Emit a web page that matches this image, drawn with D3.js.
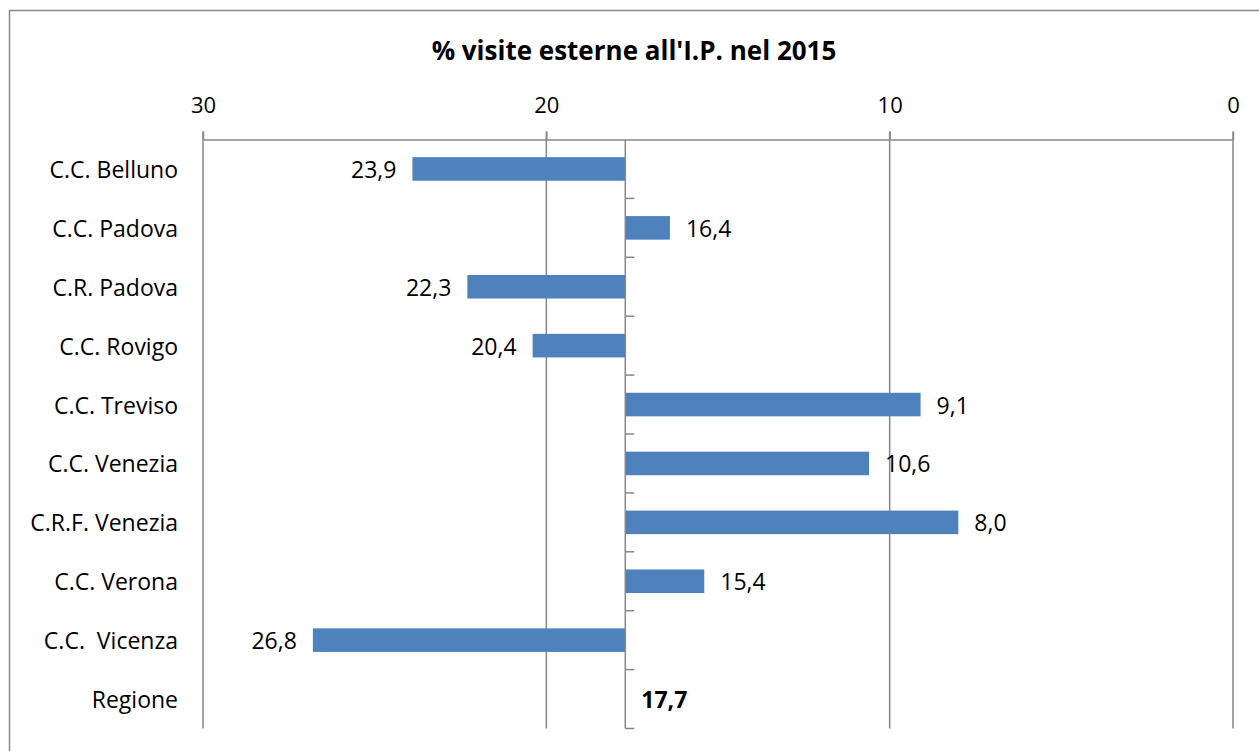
<!DOCTYPE html>
<html>
<head>
<meta charset="utf-8">
<script src="https://cdn.jsdelivr.net/npm/d3@7"></script>
<style>
  html, body { margin: 0; padding: 0; background: #fff; }
  svg { display: block; }
  text { font-family: "Open Sans", sans-serif; fill: #000; }
</style>
</head>
<body>
<script>
const title = "% visite esterne all'I.P. nel 2015";
const categories = ["C.C. Belluno", "C.C. Padova", "C.R. Padova", "C.C. Rovigo", "C.C. Treviso",
  "C.C. Venezia", "C.R.F. Venezia", "C.C. Verona", "C.C.  Vicenza", "Regione"];
const values = [23.9, 16.4, 22.3, 20.4, 9.1, 10.6, 8.0, 15.4, 26.8, 17.7];
const valueLabels = ["23,9", "16,4", "22,3", "20,4", "9,1", "10,6", "8,0", "15,4", "26,8", "17,7"];
const baselineValue = 17.7;
const tickValues = [30, 20, 10, 0];

const W = 1259, H = 751;
const pLeft = 203, pRight = 1233, pTop = 139.5, pBottom = 728.5;

const svg = d3.select("body").append("svg").attr("width", W).attr("height", H);

// outer chart border
svg.append("rect").attr("x", 9.5).attr("y", 10.5).attr("width", 1260).attr("height", 800)
  .attr("fill", "none").attr("stroke", "#888").attr("stroke-width", 1.5);

const x = d3.scaleLinear().domain([30, 0]).range([pLeft, pRight]);
const y = d3.scaleBand().domain(categories).range([pTop, pBottom]).padding(0);
const bh = y.bandwidth() * 0.4;

// title
svg.append("text").attr("x", 634).attr("y", 50).attr("text-anchor", "middle")
  .attr("dominant-baseline", "central").style("font-weight", "bold").style("font-size", "26px")
  .text(title);

// gridlines
svg.append("g").selectAll("line").data(tickValues).join("line")
  .attr("x1", d => x(d)).attr("x2", d => x(d)).attr("y1", pTop - 8).attr("y2", pBottom)
  .attr("stroke", "#878787").attr("stroke-width", 1.5);

// top axis
const ax = svg.append("g").attr("transform", `translate(0,${pTop})`)
  .call(d3.axisTop(x).tickValues(tickValues).tickSize(8).tickSizeOuter(0).tickFormat(d3.format("d")));
ax.select(".domain").attr("stroke", "#878787").attr("stroke-width", 1.5);
ax.selectAll(".tick line").attr("stroke", "#878787").attr("stroke-width", 1.5);
ax.selectAll(".tick text").style("font-size", "22px").style("font-family", "'Open Sans', sans-serif")
  .attr("y", -34).attr("dy", "0.35em").attr("fill", "#000");

// bars
const data = categories.map((c, i) => ({ c, v: values[i], l: valueLabels[i] }));
svg.append("g").selectAll("rect").data(data.filter(d => d.v !== baselineValue)).join("rect")
  .attr("x", d => Math.min(x(d.v), x(baselineValue)))
  .attr("width", d => Math.abs(x(d.v) - x(baselineValue)))
  .attr("y", d => y(d.c) + (y.bandwidth() - bh) / 2)
  .attr("height", bh)
  .attr("fill", "#4F81BD");

// baseline axis line with category ticks
const bx = x(baselineValue);
svg.append("line").attr("x1", bx).attr("x2", bx).attr("y1", pTop).attr("y2", pBottom)
  .attr("stroke", "#878787").attr("stroke-width", 1.5);
svg.append("g").selectAll("line").data(categories).join("line")
  .attr("x1", bx).attr("x2", bx + 9)
  .attr("y1", d => y(d) + y.bandwidth()).attr("y2", d => y(d) + y.bandwidth())
  .attr("stroke", "#878787").attr("stroke-width", 1.5);

// category labels
svg.append("g").selectAll("text").data(categories).join("text")
  .attr("x", 178).attr("y", d => y(d) + y.bandwidth() / 2)
  .attr("text-anchor", "end").attr("dominant-baseline", "central")
  .style("font-size", "23px").style("white-space", "pre")
  .text(d => d);

// value labels
svg.append("g").selectAll("text").data(data).join("text")
  .attr("x", d => d.v > baselineValue ? x(d.v) - 16 : x(d.v) + 16)
  .attr("y", d => y(d.c) + y.bandwidth() / 2)
  .attr("text-anchor", d => d.v > baselineValue ? "end" : "start")
  .attr("dominant-baseline", "central")
  .style("font-size", "23px")
  .style("font-weight", d => d.v === baselineValue ? "bold" : "normal")
  .text(d => d.l);
</script>
</body>
</html>
